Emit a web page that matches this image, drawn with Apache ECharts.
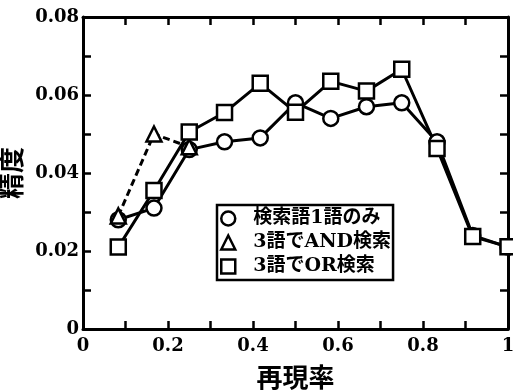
<!DOCTYPE html>
<html>
<head>
<meta charset="utf-8">
<script src="https://cdn.jsdelivr.net/npm/echarts/dist/echarts.min.js"></script>
<style>html,body{margin:0;padding:0;background:#fff;}#c{width:513px;height:390px;}</style>
</head>
<body>
<div id="c"></div>
<script>
const recall = [0.083, 0.167, 0.25, 0.333, 0.417, 0.5, 0.583, 0.667, 0.75, 0.833, 0.917, 1.0];
const oneWord = [0.028, 0.031, 0.046, 0.048, 0.049, 0.058, 0.054, 0.057, 0.058, 0.048, 0.024, 0.021];
const andSearch = [0.029, 0.050, 0.0467];
const orSearch = [0.021, 0.0355, 0.0505, 0.0555, 0.063, 0.0556, 0.0635, 0.061, 0.0666, 0.0463, 0.0237, 0.0211];
const seriesNames = ['検索語1語のみ', '3語でAND検索', '3語でOR検索'];
const xTickLabels = {0: '0', 0.2: '0.2', 0.4: '0.4', 0.6: '0.6', 0.8: '0.8', 1: '1'};
const yTickLabels = {0: '0', 0.02: '0.02', 0.04: '0.04', 0.06: '0.06', 0.08: '0.08'};

const FONT = "'DejaVu Serif', 'Noto Sans CJK JP', serif";
const CJK = "'Noto Sans CJK JP', sans-serif";

function pairs(xs, ys) { return ys.map((y, i) => [xs[i], y]); }
function lookup(map, v) {
  for (const k in map) { if (Math.abs(parseFloat(k) - v) < 1e-9) return map[k]; }
  return '';
}

function ticks() {
  return {
    axisLine: { show: true, onZero: false, lineStyle: { color: '#000', width: 3 } },
    axisTick: { show: true, inside: true, length: 8, lineStyle: { color: '#000', width: 2.5 } },
    minorTick: { show: true, splitNumber: 2, length: 8, lineStyle: { color: '#000', width: 2.5 } },
    splitLine: { show: false },
    minorSplitLine: { show: false }
  };
}

const chart = echarts.init(document.getElementById('c'));
chart.setOption({
  animation: false,
  backgroundColor: '#fff',
  grid: { left: 83, right: 5, top: 17, bottom: 61, containLabel: false, outerBoundsMode: 'none' },
  legend: {
    orient: 'vertical',
    left: 217, top: 205,
    data: [
      { name: seriesNames[0], icon: 'circle' },
      { name: seriesNames[1], icon: 'triangle' },
      { name: seriesNames[2], icon: 'rect' }
    ],
    itemWidth: 14, itemHeight: 14, itemGap: 5,
    padding: [4, 2, 4, 3],
    borderColor: '#000', borderWidth: 2.5,
    backgroundColor: '#fff',
    textStyle: { color: '#000', fontSize: 19, fontWeight: 'bold', fontFamily: FONT, padding: [0, 0, 0, 13] },
    itemStyle: { color: '#fff', borderColor: '#000', borderWidth: 2.5 }
  },
  xAxis: [
    Object.assign({
      type: 'value', min: 0, max: 1, interval: 0.2, position: 'bottom', gridIndex: 0,
      name: '再現率', nameLocation: 'middle', nameGap: 35,
      nameTextStyle: { color: '#000', fontSize: 26, fontWeight: 'bold', fontFamily: CJK },
      axisLabel: { color: '#000', fontSize: 18, fontWeight: 'bold', fontFamily: FONT, margin: 8,
        formatter: v => lookup(xTickLabels, v) }
    }, ticks()),
    Object.assign({
      type: 'value', min: 0, max: 1, interval: 0.2, position: 'top', gridIndex: 0,
      axisLabel: { show: false }
    }, ticks())
  ],
  yAxis: [
    Object.assign({
      type: 'value', min: 0, max: 0.08, interval: 0.02, position: 'left', gridIndex: 0,
      name: '精度', nameLocation: 'middle', nameGap: 51, nameRotate: 90,
      nameTextStyle: { color: '#000', fontSize: 26, fontWeight: 'bold', fontFamily: CJK },
      axisLabel: { color: '#000', fontSize: 18, fontWeight: 'bold', fontFamily: FONT, margin: 4,
        formatter: v => lookup(yTickLabels, v) }
    }, ticks()),
    Object.assign({
      type: 'value', min: 0, max: 0.08, interval: 0.02, position: 'right', gridIndex: 0,
      axisLabel: { show: false }
    }, ticks())
  ],
  series: [
    {
      name: seriesNames[0], type: 'line', data: pairs(recall, oneWord),
      symbol: 'circle', symbolSize: 15, showAllSymbol: true,
      lineStyle: { color: '#000', width: 3 },
      itemStyle: { color: '#fff', borderColor: '#000', borderWidth: 2.5 }
    },
    {
      name: seriesNames[1], type: 'line', data: pairs(recall, andSearch),
      symbol: 'triangle', symbolSize: 15, showAllSymbol: true,
      lineStyle: { color: '#000', width: 3, type: [7, 4] },
      itemStyle: { color: '#fff', borderColor: '#000', borderWidth: 2.5 }
    },
    {
      name: seriesNames[2], type: 'line', data: pairs(recall, orSearch),
      symbol: 'rect', symbolSize: 15, showAllSymbol: true,
      lineStyle: { color: '#000', width: 3 },
      itemStyle: { color: '#fff', borderColor: '#000', borderWidth: 2.5 }
    }
  ]
});
</script>
</body>
</html>
